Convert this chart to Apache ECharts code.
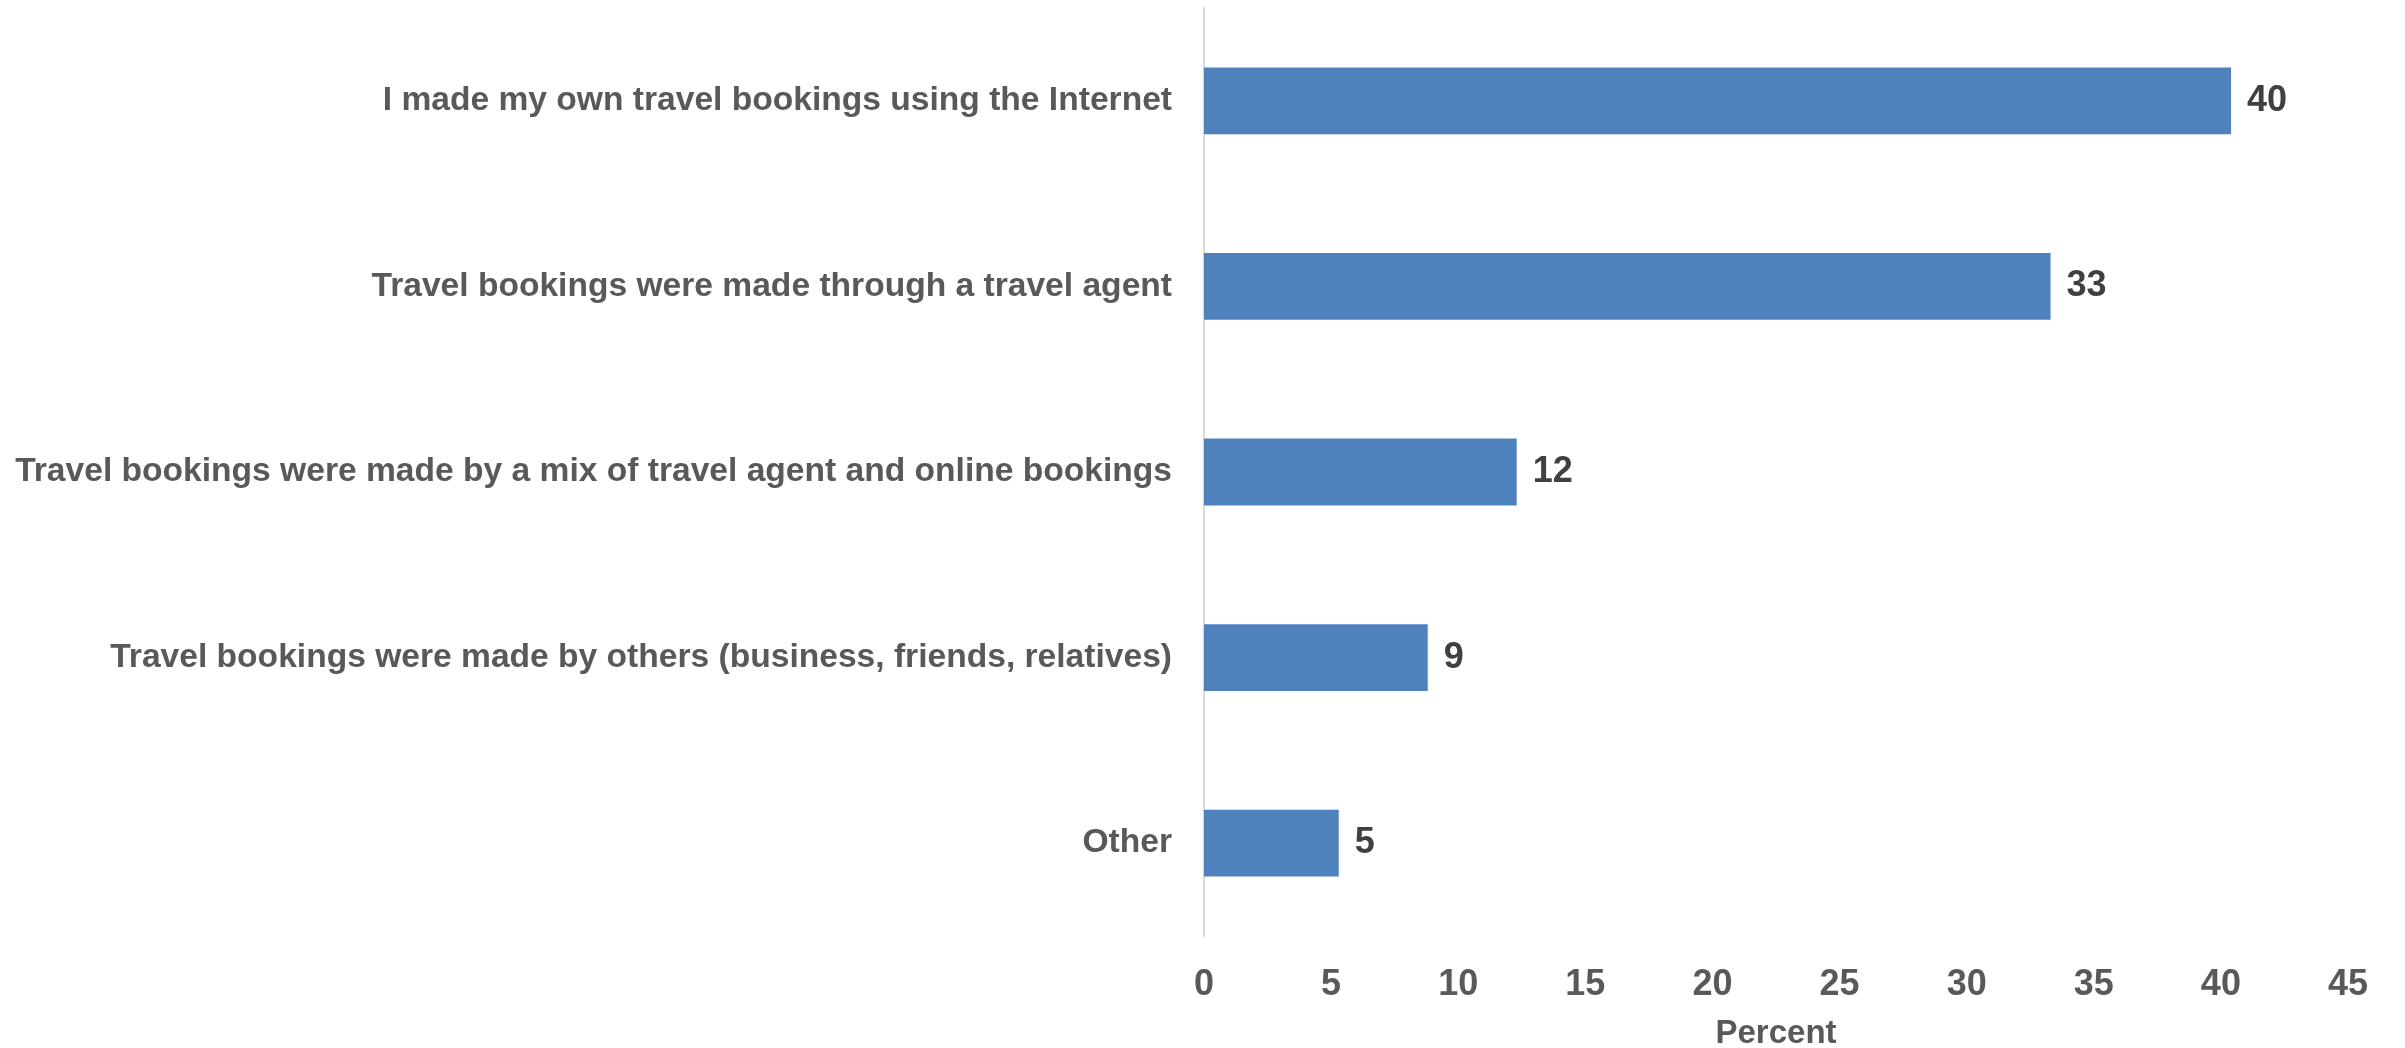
<!DOCTYPE html>
<html><head><meta charset="utf-8">
<script src="https://cdn.jsdelivr.net/npm/echarts@6/dist/echarts.min.js"></script>
<style>html,body{margin:0;padding:0;background:#fff}#c{width:2405px;height:1048px}</style>
</head><body><div id="c"></div>
<script>
const categories = [
  "I made my own travel bookings using the Internet",
  "Travel bookings were made through a travel agent",
  "Travel bookings were made by a mix of travel agent and online bookings",
  "Travel bookings were made by others (business, friends, relatives)",
  "Other"
];
const values = [40.4, 33.3, 12.3, 8.8, 5.3];
const xTicks = [0, 5, 10, 15, 20, 25, 30, 35, 40, 45];
const xAxisName = "Percent";

const font = "'Liberation Sans', Arial, sans-serif";
const chart = echarts.init(document.getElementById('c'));
chart.setOption({
  animation: false,
  grid: { left: 1204, right: 57, top: 8, bottom: 112, containLabel: false, outerBoundsMode: 'none' },
  xAxis: {
    type: 'value', min: xTicks[0], max: xTicks[xTicks.length - 1], interval: 5,
    name: xAxisName, nameLocation: 'middle', nameGap: 81,
    nameTextStyle: { color: '#595959', fontSize: 33, fontWeight: 'bold', fontFamily: font },
    axisLine: { show: false }, axisTick: { show: false }, splitLine: { show: false },
    axisLabel: { color: '#595959', fontSize: 36, fontWeight: 'bold', fontFamily: font, margin: 31 }
  },
  yAxis: {
    type: 'category', data: categories, inverse: true,
    axisLine: { show: true, lineStyle: { color: '#D9D9D9', width: 2 } },
    axisTick: { show: false },
    axisLabel: { color: '#595959', fontSize: 33.6, fontWeight: 'bold', fontFamily: font, margin: 32 }
  },
  series: [{
    type: 'bar', data: values, barCategoryGap: '64%',
    itemStyle: { color: '#4F81BD' },
    label: { show: true, position: 'right', distance: 16, color: '#404040', fontSize: 36, fontWeight: 'bold', fontFamily: font,
      formatter: p => Math.round(p.value) }
  }]
});
</script></body></html>
